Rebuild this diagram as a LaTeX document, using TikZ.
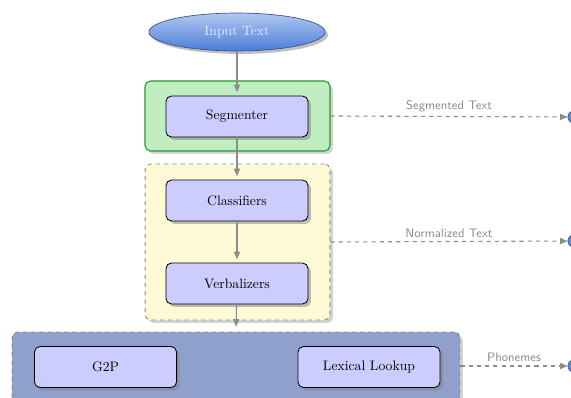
\documentclass[tikz,border=0pt]{standalone}
\usetikzlibrary{shapes.geometric,shadows,arrows.meta}
\definecolor{grnfill}{RGB}{192,238,192}
\definecolor{grnline}{RGB}{40,150,40}
\definecolor{ylwfill}{RGB}{255,250,214}
\definecolor{bluefill}{RGB}{143,160,204}
\definecolor{procfill}{RGB}{204,204,255}
\definecolor{ellborder}{RGB}{60,80,140}
\definecolor{arrgray}{RGB}{140,140,140}
\begin{document}
\begin{tikzpicture}[x=0.73pt,y=-0.73pt,
  procbox/.style={draw=black,fill=procfill,rounded corners=4pt,line width=0.6pt,
    minimum width=103.7pt,minimum height=29.9pt,inner sep=0pt,drop shadow={opacity=0.5},font=\normalsize},
  groupbox/.style={rounded corners=4pt,inner sep=0pt,drop shadow={opacity=0.35}},
  flow/.style={draw=arrgray,line width=0.8pt,-{Triangle[length=5.5pt,width=4.5pt]},shorten >=2.5pt},
  outflow/.style={draw=arrgray,line width=0.8pt,dashed,-{Triangle[length=5.5pt,width=4.5pt]}},
  outlabel/.style={font=\sffamily\small,text=arrgray,above,inner sep=2.5pt},
  outdot/.style={circle,draw=ellborder,fill={rgb,255:red,90;green,135;blue,220},minimum size=9pt,inner sep=0pt}
]
\useasboundingbox (0,0) rectangle (571,398);
\begin{scope}
\clip (0,0) rectangle (571,398);
% group boxes
\node[groupbox,draw=grnline,fill=grnfill,line width=0.8pt,minimum width=135pt,minimum height=51.1pt] (segbox) at (237.5,116) {};
\node[groupbox,draw=arrgray,dashed,fill=ylwfill,line width=0.7pt,minimum width=135pt,minimum height=113.9pt] (normbox) at (237.5,242) {};
\node[groupbox,draw=arrgray,dashed,fill=bluefill,line width=0.7pt,minimum width=327pt,minimum height=51.1pt] (phonbox) at (236,367) {};
% input
\node[ellipse,draw=ellborder,line width=0.5pt,top color={rgb,255:red,175;green,200;blue,240},bottom color={rgb,255:red,75;green,125;blue,215},
  minimum width=128.5pt,minimum height=27.7pt,inner sep=0pt,text={rgb,255:red,225;green,235;blue,250},drop shadow={opacity=0.5}] (in) at (237,32) {Input Text};
% processes
\node[procbox] (seg) at (237,116.5) {Segmenter};
\node[procbox] (cls) at (237,200.5) {Classifiers};
\node[procbox] (verb) at (237,283.5) {Verbalizers};
\node[procbox] (g2p) at (105.5,367) {G2P};
\node[procbox] (lex) at (369,367) {Lexical Lookup};
% flows
\draw[flow] (in) -- (seg);
\draw[flow] (seg) -- (cls);
\draw[flow] (cls) -- (verb);
\draw[flow,shorten >=3.5pt] (verb) -- (phonbox.north);
% outputs
\node[outdot] (o1) at (574,117) {};
\node[outdot] (o2) at (574,241) {};
\node[outdot] (o3) at (574,366) {};
\draw[outflow] (segbox.east) -- node[outlabel,pos=0.5] {Segmented Text} (o1);
\draw[outflow] (normbox.east) -- node[outlabel,pos=0.5] {Normalized Text} (o2);
\draw[outflow] (phonbox.east |- o3) -- node[outlabel,pos=0.5] {Phonemes} (o3);
\end{scope}
\end{tikzpicture}
\end{document}
